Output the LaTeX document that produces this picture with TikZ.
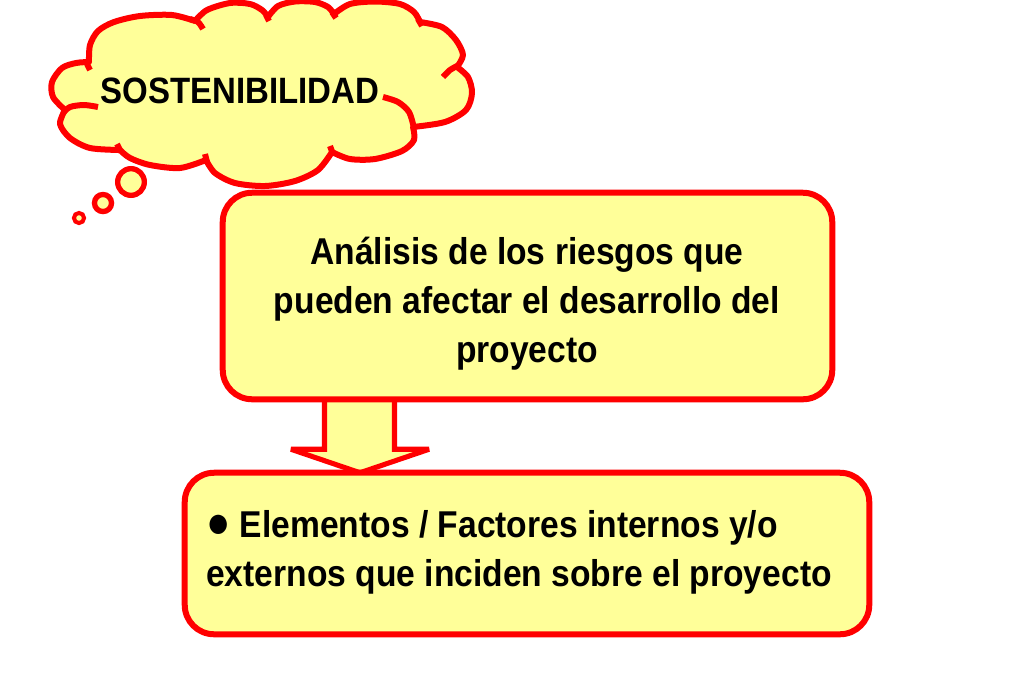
\documentclass[tikz,border=0pt]{standalone}
\usepackage{fontspec}
\setmainfont{Liberation Sans}[FakeStretch=0.9]
\usetikzlibrary{calc}
\definecolor{yel}{HTML}{FFFF99}
\definecolor{rd}{HTML}{FF0000}
\begin{document}
\begin{tikzpicture}[x=0.75pt,y=-0.75pt,
  boxarea/.style={inner sep=0pt},
  box/.style={draw=rd,fill=yel,line width=4.5pt,rounded corners=22pt},
  bigtext/.style={font=\bfseries\fontsize{28}{36.75}\selectfont},
  cloudline/.style={draw=rd,fill=yel,line width=4.5pt,line join=round},
  hook/.style={draw=rd,line width=4.5pt},
  bubble/.style={draw=rd,fill=yel,line width=4pt},
  blockarrow/.style={draw=rd,fill=yel,line width=3.8pt,line join=miter,miter limit=2}]
\useasboundingbox (0,0) rectangle (1024,683);
% cloud outline
\path[cloudline] (65,110)
  -- plot[smooth] coordinates {(65,110) (53,97) (52,82) (62,68) (76,63) (89,62)}
  -- plot[smooth] coordinates {(89,62) (90,45) (98,31) (114,22) (140,16) (172,15) (195,21)}
  -- plot[smooth] coordinates {(195,21) (207,10) (230,3) (250,4) (262,10) (268,17)}
  -- plot[smooth] coordinates {(268,17) (278,6) (295,1.5) (315,2) (328,7) (334,14)}
  -- plot[smooth] coordinates {(334,14) (350,4) (375,1.5) (400,4) (414,12) (420,22)}
  -- plot[smooth] coordinates {(420,22) (442,27) (456,40) (463,55) (457,67)}
  -- plot[smooth] coordinates {(457,67) (468,77) (472,93) (466,110) (445,122) (413,127)}
  -- plot[smooth] coordinates {(413,127) (414,140) (402,151) (375,159) (350,159) (332,152)}
  -- plot[smooth] coordinates {(332,152) (318,170) (295,181) (265,186) (235,183) (215,173) (206,160)}
  -- plot[smooth] coordinates {(206,160) (180,168) (150,165) (130,158) (120,150)}
  -- plot[smooth] coordinates {(120,150) (90,148) (70,138) (60,124) (65,110)}
  -- cycle;
% inner hooks of the cloud
\path[hook] plot[smooth] coordinates {(63,113) (70,107) (84,105) (98,107)};
\path[hook] plot[smooth] coordinates {(190,19) (198,22) (203,29)};
\path[hook] plot[smooth] coordinates {(266,15) (269,21)};
\path[hook] plot[smooth] coordinates {(332,12) (336,18)};
\path[hook] plot[smooth] coordinates {(418,19) (422,26)};
\path[hook] plot[smooth] coordinates {(459,65) (450,70) (443,77)};
\path[hook] plot[smooth] coordinates {(383,97) (398,102) (409,112) (414,128)};
\path[hook] plot[smooth] coordinates {(333,154) (330,146)};
\path[hook] plot[smooth] coordinates {(207,162) (205,154)};
\path[hook] plot[smooth] coordinates {(121,152) (117,144)};
\path[hook] plot[smooth] coordinates {(87,64) (90,70)};
\node[font=\bfseries\fontsize{27.5}{30}\selectfont] (sost) at (240,91) {SOSTENIBILIDAD};
\path[bubble] (131,182) circle [radius=10pt];
\path[bubble] (103,203) circle [radius=6.4pt];
\path[bubble,line width=3pt] (79,218) circle [radius=3.8pt];
% boxes
\coordinate (atop) at (360,400);
\node[boxarea,minimum width=456.75pt,minimum height=154.5pt] (b1) at (527.5,296) {};
\node[boxarea,minimum width=513pt,minimum height=120.75pt] (b2) at (527,553.5) {};
\coordinate (atip) at (atop |- b2.north);
% arrow
\path[blockarrow]
  ($(b1.south -| atop)+(-35.5,-5)$) -- ($(b1.south -| atop)+(-35.5,50)$) -- ($(b1.south -| atop)+(-69,50)$)
  -- (atip) -- ($(b1.south -| atop)+(69,50)$) -- ($(b1.south -| atop)+(34.5,50)$) -- ($(b1.south -| atop)+(34.5,-5)$) -- cycle;
\path[box] (b1.south west) rectangle (b1.north east);
\path[box] (b2.south west) rectangle (b2.north east);
\node[bigtext,align=center,inner sep=0pt] (t1) at (527,304) {Análisis de los riesgos que\\pueden afectar el desarrollo del\\proyecto};
\node[bigtext,align=left,inner sep=0pt,anchor=west] (t2) at (206,552) {\raisebox{-0.02em}{\scalebox{1.2}{●}} Elementos / Factores internos y/o\\externos que inciden sobre el proyecto};
\end{tikzpicture}
\end{document}
